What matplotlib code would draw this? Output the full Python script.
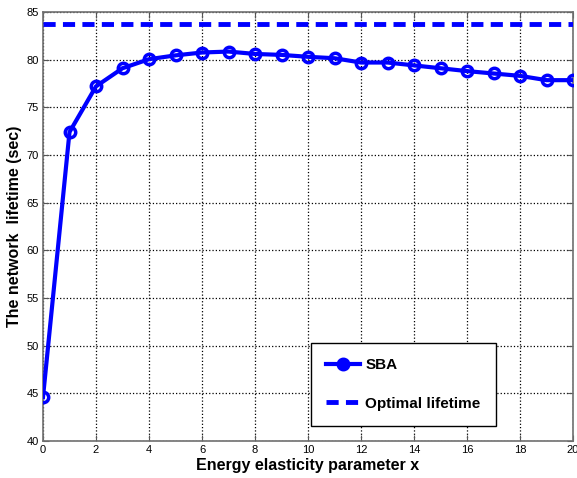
import matplotlib
matplotlib.use("Agg")
import matplotlib.pyplot as plt
import numpy as np

x_vals = list(range(0, 21))
sba_lifetime = [44.6, 72.4, 77.2, 79.1, 80.05, 80.45, 80.75, 80.85, 80.6, 80.5,
                80.3, 80.15, 79.7, 79.7, 79.4, 79.1, 78.8, 78.55, 78.3, 77.85, 77.85]
optimal_lifetime = 83.7
x_ticks = list(range(0, 21, 2))
y_ticks = list(range(40, 90, 5))

plt.rcParams['font.family'] = ['Liberation Sans', 'DejaVu Sans']

fig = plt.figure(figsize=(5.77, 4.78), dpi=100)
ax = fig.add_axes([43/577, 1-441/478, (573-43)/577, (441-12)/478])

ax.plot(x_vals, sba_lifetime, color='#0000ff', lw=3, marker='o', ms=7.5,
        mfc='none', mec='#0000ff', mew=2.5, label='SBA', zorder=3)
ax.axhline(optimal_lifetime, color='#0000ff', lw=3.5, ls=(0, (2.5, 1.5)),
           label='Optimal lifetime', zorder=3)

ax.set_xlim(0, 20)
ax.set_ylim(40, 85)
ax.set_xticks(x_ticks)
ax.set_yticks(y_ticks)
ax.tick_params(labelsize=8, direction='in', length=4, color='#555555', top=True, right=True, pad=3)
ax.grid(True, color='black', ls=':', lw=0.9)
for s in ax.spines.values():
    s.set_color('#707070')
    s.set_linewidth(1.2)

ax.set_xlabel('Energy elasticity parameter x', fontsize=11.5, fontweight='bold', labelpad=2)
ax.set_ylabel('The network  lifetime (sec)', fontsize=11.5, fontweight='bold', labelpad=3)

leg = ax.legend(loc='upper left', bbox_to_anchor=((311-43)/530, (441-343)/429),
                fancybox=False, framealpha=1, edgecolor='black',
                prop={'weight': 'bold', 'size': 11}, handlelength=2.2, labelspacing=1.6,
                borderpad=1.0, borderaxespad=0, handletextpad=0.35)
leg.get_frame().set_linewidth(1.0)
leg.legend_handles[0].set_markerfacecolor('#0000ff')

fig.savefig('out.png', dpi=100)
